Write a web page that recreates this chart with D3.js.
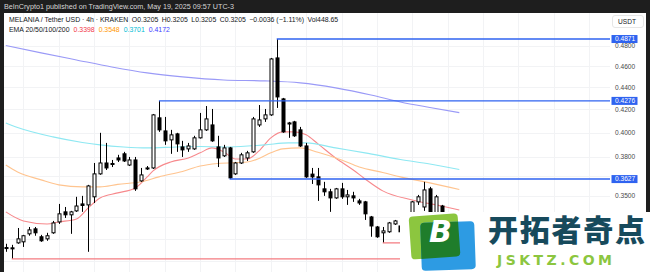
<!DOCTYPE html>
<html>
<head>
<meta charset="utf-8">
<script src="https://cdn.jsdelivr.net/npm/d3@7"></script>
<style>
  body { margin: 0; background: #fff; }
  svg { display: block; }
</style>
</head>
<body>
<div id="chart"></div>
<script>
// <-- ************ DATA ************ -->
// 4h candles, [open, high, low, close]
const candles = [
  [0.3140, 0.3165, 0.3112, 0.3138], [0.3138, 0.3158, 0.3066, 0.3135], [0.3171, 0.3272, 0.3165, 0.3198],
  [0.3178, 0.3225, 0.3144, 0.3219], [0.3232, 0.3279, 0.3219, 0.3259], [0.3266, 0.3279, 0.3219, 0.3239],
  [0.3212, 0.3225, 0.3178, 0.3185], [0.3198, 0.3239, 0.3185, 0.3219], [0.3239, 0.3321, 0.3232, 0.3307],
  [0.3314, 0.3442, 0.3300, 0.3371], [0.3385, 0.3420, 0.3342, 0.3364], [0.3364, 0.3392, 0.3232, 0.3385],
  [0.3392, 0.3494, 0.3385, 0.3427], [0.3442, 0.3501, 0.3385, 0.3431], [0.3435, 0.3583, 0.3112, 0.3575],
  [0.3494, 0.3752, 0.3449, 0.3667], [0.3667, 0.3998, 0.3660, 0.3752], [0.3752, 0.3914, 0.3697, 0.3713],
  [0.3740, 0.3776, 0.3720, 0.3748], [0.3792, 0.3817, 0.3760, 0.3776], [0.3825, 0.3841, 0.3760, 0.3768],
  [0.3736, 0.3800, 0.3728, 0.3776], [0.3776, 0.3800, 0.3538, 0.3553], [0.3613, 0.3713, 0.3606, 0.3659],
  [0.3713, 0.3728, 0.3697, 0.3705], [0.3713, 0.4160, 0.3705, 0.4152], [0.4126, 0.4276, 0.4006, 0.4023],
  [0.4014, 0.4134, 0.3898, 0.3931], [0.3939, 0.4023, 0.3825, 0.3981], [0.3989, 0.3998, 0.3841, 0.3906],
  [0.3881, 0.3931, 0.3800, 0.3857], [0.3865, 0.3914, 0.3841, 0.3889], [0.3865, 0.3973, 0.3857, 0.3956],
  [0.3956, 0.4169, 0.3950, 0.4023], [0.4023, 0.4230, 0.4014, 0.4117], [0.4065, 0.4204, 0.3923, 0.3931],
  [0.3881, 0.3973, 0.3720, 0.3792], [0.3809, 0.3898, 0.3800, 0.3873], [0.3873, 0.3881, 0.3627, 0.3636],
  [0.3667, 0.3760, 0.3659, 0.3752], [0.3752, 0.3833, 0.3744, 0.3817], [0.3792, 0.3849, 0.3768, 0.3833],
  [0.3841, 0.4134, 0.3833, 0.4117], [0.4065, 0.4239, 0.4048, 0.4108], [0.4117, 0.4204, 0.4091, 0.4152],
  [0.4152, 0.4681, 0.4143, 0.4671], [0.4681, 0.4871, 0.4213, 0.4312], [0.4294, 0.4303, 0.3998, 0.4006],
  [0.4073, 0.4091, 0.3956, 0.4082], [0.4091, 0.4100, 0.3964, 0.3973], [0.4023, 0.4048, 0.3881, 0.3889],
  [0.3889, 0.3914, 0.3636, 0.3644], [0.3665, 0.3713, 0.3590, 0.3644], [0.3644, 0.3713, 0.3464, 0.3583],
  [0.3553, 0.3606, 0.3501, 0.3531], [0.3531, 0.3553, 0.3385, 0.3486], [0.3486, 0.3560, 0.3479, 0.3553],
  [0.3553, 0.3598, 0.3479, 0.3494], [0.3494, 0.3545, 0.3435, 0.3508], [0.3501, 0.3531, 0.3457, 0.3486],
  [0.3464, 0.3479, 0.3435, 0.3449], [0.3457, 0.3464, 0.3328, 0.3371], [0.3349, 0.3356, 0.3212, 0.3286],
  [0.3279, 0.3286, 0.3205, 0.3212], [0.3239, 0.3279, 0.3171, 0.3252], [0.3246, 0.3314, 0.3239, 0.3307],
  [0.3300, 0.3328, 0.3293, 0.3321], [0.3286, 0.3293, 0.3239, 0.3246], [0.3246, 0.3300, 0.3230, 0.3290],
  [0.3290, 0.3464, 0.3280, 0.3457], [0.3457, 0.3508, 0.3435, 0.3494], [0.3420, 0.3606, 0.3392, 0.3545],
  [0.3553, 0.3568, 0.3342, 0.3356], [0.3371, 0.3508, 0.3350, 0.3494], [0.3427, 0.3435, 0.3300, 0.3314],
  [0.3314, 0.3330, 0.3235, 0.3252], [0.3252, 0.3270, 0.3225, 0.3241], [0.3205, 0.3205, 0.3205, 0.3205]
];

// EMA readings, [candle index, value]
const ema20 = [[0, 0.3385], [3, 0.3321], [7, 0.3300], [9, 0.3314], [12, 0.3335], [14, 0.3413], [16, 0.3486],
  [19, 0.3523], [22, 0.3560], [24, 0.3644], [25, 0.3690], [28, 0.3760], [31, 0.3792], [33, 0.3833],
  [35, 0.3873], [37, 0.3841], [39, 0.3784], [41, 0.3784], [43, 0.3849], [45, 0.3956], [47, 0.4006],
  [49, 0.4006], [51, 0.3981], [53, 0.3906], [56, 0.3792], [59, 0.3697], [61, 0.3628], [64, 0.3538],
  [69, 0.3471], [74, 0.3427], [77, 0.3398]];
const ema50 = [[0, 0.3736], [2, 0.3682], [6, 0.3621], [9, 0.3583], [13, 0.3568], [16, 0.3568], [19, 0.3587],
  [23, 0.3606], [26, 0.3644], [30, 0.3686], [33, 0.3728], [36, 0.3748], [41, 0.3760], [43, 0.3788],
  [45, 0.3833], [47, 0.3865], [50, 0.3873], [53, 0.3837], [57, 0.3776], [60, 0.3720], [64, 0.3678],
  [67, 0.3644], [72, 0.3598], [77, 0.3548]];
const ema100 = [[0, 0.4082], [2, 0.4043], [8, 0.3964], [13, 0.3918], [16, 0.3898], [20, 0.3881], [24, 0.3873],
  [29, 0.3881], [33, 0.3885], [38, 0.3881], [44, 0.3898], [48, 0.3914], [51, 0.3914], [56, 0.3873],
  [61, 0.3833], [67, 0.3780], [72, 0.3744], [77, 0.3701]];
const ema200 = [[0, 0.4805], [6, 0.4731], [12, 0.4661], [18, 0.4593], [24, 0.4536], [30, 0.4498], [37, 0.4469],
  [44, 0.4460], [50, 0.4441], [56, 0.4395], [62, 0.4330], [67, 0.4266], [72, 0.4217], [77, 0.4172]];

const emaLast = ["0.3398", "0.3548", "0.3701", "0.4172"];

// horizontal levels: price, starting candle
const levelPrices = [0.4871, 0.4276, 0.3627];
const levelStart = [46, 26, 38];
const supportPrices = [0.3066, 0.3171];
const supportStart = [1, 64];

// grid rows and the axis labels left readable
const priceTicks = [0.48, 0.46, 0.44, 0.42, 0.40, 0.38, 0.365, 0.35, 0.335, 0.32, 0.305];
const priceLabels = [0.48, 0.46, 0.44, 0.42, 0.40, 0.38, 0.35];
const dayGrid = d3.range(3, 100, 6);

// <-- ************ LAYOUT ************ -->
const FRAME_WIDTH = 650;
const FRAME_HEIGHT = 272;
const PLOT = {left: 4, right: 610, top: 13, bottom: 272};

const COLORS = {
  ema: ["#f23645", "#ff9800", "#00bcd4", "#3f3fff"],
  line: ["#f7898c", "#ffc48f", "#8ee8f2", "#9a9af7"],
  level: "#2f63f0",
  support: "#f47b80",
  text: "#131722",
  axis: "#4a4a4a",
  grid: "#f2f3f5"
};

const X_SCALE = d3.scaleLinear().domain([0, 77]).range([5.8, 459.3]);
const Y_SCALE = d3.scaleLog().domain([0.48, 0.35]).range([46, 196]);

const svg = d3.select("#chart").append("svg")
  .attr("width", FRAME_WIDTH)
  .attr("height", FRAME_HEIGHT)
  .style("font-family", "'Liberation Sans', Arial, sans-serif");

svg.append("rect").attr("width", FRAME_WIDTH).attr("height", FRAME_HEIGHT).attr("fill", "#fff");

svg.append("clipPath").attr("id", "plot-clip")
  .append("rect")
  .attr("x", PLOT.left).attr("y", PLOT.top)
  .attr("width", PLOT.right - PLOT.left).attr("height", PLOT.bottom - PLOT.top);

const plot = svg.append("g").attr("clip-path", "url(#plot-clip)");

// grid
plot.append("g").selectAll("line").data(dayGrid).enter().append("line")
  .attr("x1", d => Math.round(X_SCALE(d)) + 0.5).attr("x2", d => Math.round(X_SCALE(d)) + 0.5)
  .attr("y1", PLOT.top).attr("y2", PLOT.bottom)
  .attr("stroke", COLORS.grid);
plot.append("g").selectAll("line").data(priceTicks).enter().append("line")
  .attr("x1", PLOT.left).attr("x2", PLOT.right)
  .attr("y1", d => Math.round(Y_SCALE(d)) + 0.5).attr("y2", d => Math.round(Y_SCALE(d)) + 0.5)
  .attr("stroke", COLORS.grid);

// EMA lines
const emaLine = d3.line()
  .x(d => X_SCALE(d[0]))
  .y(d => Y_SCALE(d[1]))
  .curve(d3.curveMonotoneX);

[ema20, ema50, ema100, ema200].forEach((series, i) => {
  plot.append("path")
    .datum(series)
    .attr("d", emaLine)
    .attr("fill", "none")
    .attr("stroke", COLORS.line[i])
    .attr("stroke-width", 1.1);
});

// candles
const candleG = plot.append("g").selectAll("g").data(candles).enter().append("g");

candleG.append("line")
  .attr("x1", (d, i) => Math.round(X_SCALE(i)) + 0.5)
  .attr("x2", (d, i) => Math.round(X_SCALE(i)) + 0.5)
  .attr("y1", d => Y_SCALE(d[1]))
  .attr("y2", d => Y_SCALE(d[2]))
  .attr("stroke", "#000");

candleG.append("rect")
  .attr("x", (d, i) => Math.round(X_SCALE(i)) - 1)
  .attr("width", 3)
  .attr("y", d => Math.min(Y_SCALE(d[0]), Y_SCALE(d[3])))
  .attr("height", d => Math.max(1, Math.abs(Y_SCALE(d[0]) - Y_SCALE(d[3]))))
  .attr("fill", d => d[3] >= d[0] ? "#fff" : "#000")
  .attr("stroke", "#000")
  .attr("stroke-width", 1);

// level lines
plot.append("g").selectAll("line").data(levelPrices).enter().append("line")
  .attr("x1", (d, i) => X_SCALE(levelStart[i]))
  .attr("x2", PLOT.right)
  .attr("y1", d => Y_SCALE(d)).attr("y2", d => Y_SCALE(d))
  .attr("stroke", COLORS.level)
  .attr("stroke-width", 1.4);

plot.append("g").selectAll("line").data(supportPrices).enter().append("line")
  .attr("x1", (d, i) => X_SCALE(supportStart[i]))
  .attr("x2", PLOT.right)
  .attr("y1", d => Y_SCALE(d)).attr("y2", d => Y_SCALE(d))
  .attr("stroke", COLORS.support)
  .attr("stroke-width", 1.4);

// price axis
svg.append("g").selectAll("text").data(priceLabels).enter().append("text")
  .attr("x", 615)
  .attr("y", d => Y_SCALE(d))
  .attr("dy", "0.35em")
  .attr("font-size", "6.6px")
  .attr("fill", COLORS.axis)
  .text(d => d.toFixed(4));

const levelTag = svg.append("g").selectAll("g").data(levelPrices).enter().append("g");
levelTag.append("rect")
  .attr("x", 611.5).attr("y", d => Y_SCALE(d) - 4)
  .attr("width", 26).attr("height", 8)
  .attr("fill", COLORS.level);
levelTag.append("text")
  .attr("x", 615).attr("y", d => Y_SCALE(d))
  .attr("dy", "0.35em")
  .attr("font-size", "6.6px")
  .attr("fill", "#fff")
  .text(d => d.toFixed(4));

svg.append("rect")
  .attr("x", 612.5).attr("y", 15.5).attr("width", 31).attr("height", 12).attr("rx", 2.5)
  .attr("fill", "#fff").attr("stroke", "#e6e6e6");
svg.append("text")
  .attr("x", 618).attr("y", 21.5).attr("dy", "0.35em")
  .attr("font-size", "6.6px").attr("fill", COLORS.text)
  .text("USDT");

// legend
const legend1 = svg.append("text")
  .attr("x", 9).attr("y", 20).attr("dy", "0.35em")
  .attr("font-size", "6.9px").attr("fill", COLORS.text);
legend1.append("tspan").text("MELANIA / Tether USD · 4h · KRAKEN");
["O0.3205", "H0.3205", "L0.3205", "C0.3205", "\u22120.0036 (\u22121.11%)", "Vol448.65"].forEach(t => {
  legend1.append("tspan").attr("dx", 3.5).text(t);
});

const legend2 = svg.append("text")
  .attr("x", 9).attr("y", 29.5).attr("dy", "0.35em")
  .attr("font-size", "6.9px").attr("fill", COLORS.text);
legend2.append("tspan").text("EMA 20/50/100/200");
emaLast.forEach((t, i) => {
  legend2.append("tspan").attr("dx", 4).attr("fill", COLORS.ema[i]).text(t);
});

// screenshot frame
svg.append("rect").attr("x", 0).attr("y", 0).attr("width", FRAME_WIDTH).attr("height", 13).attr("fill", "#1e1e1e");
svg.append("rect").attr("x", 0).attr("y", 0).attr("width", 4).attr("height", FRAME_HEIGHT).attr("fill", "#1e1e1e");
svg.append("rect").attr("x", 646).attr("y", 0).attr("width", 4).attr("height", 212).attr("fill", "#1e1e1e");
svg.append("text")
  .attr("x", 4).attr("y", 6.5).attr("dy", "0.35em")
  .attr("font-size", "7.2px").attr("fill", "#d6d6d6")
  .text("BeInCrypto1 published on TradingView.com, May 19, 2025 09:57 UTC-3");

// watermark
const mark = svg.append("g");
mark.append("rect").attr("x", 400).attr("y", 212).attr("width", 250).attr("height", 60).attr("fill", "#fff");
mark.append("clipPath").attr("id", "blue-clip")
  .append("rect").attr("x", 421).attr("y", 222).attr("width", 54).attr("height", 48).attr("rx", 4)
  .attr("transform", "rotate(-2 448 246)");
mark.append("rect").attr("x", 410).attr("y", 215).attr("width", 49).attr("height", 43).attr("rx", 4)
  .attr("transform", "rotate(-4 434 236)").attr("fill", "#8cc63f");
mark.append("rect").attr("x", 421).attr("y", 222).attr("width", 54).attr("height", 48).attr("rx", 4)
  .attr("transform", "rotate(-2 448 246)").attr("fill", "#2d9be3");
mark.append("g").attr("clip-path", "url(#blue-clip)")
  .append("rect").attr("x", 410).attr("y", 215).attr("width", 49).attr("height", 43).attr("rx", 4)
  .attr("transform", "rotate(-4 434 236)").attr("fill", "#1f7d2b");
mark.append("text")
  .attr("x", 429).attr("y", 242)
  .attr("font-size", "30px").attr("font-weight", "bold").attr("font-style", "italic")
  .attr("font-family", "'DejaVu Sans', sans-serif")
  .attr("fill", "#fff")
  .text("B");
mark.append("text")
  .attr("x", 488).attr("y", 241)
  .attr("font-size", "30px").attr("font-weight", 900)
  .attr("font-family", "'Noto Sans CJK SC', sans-serif")
  .attr("textLength", 157).attr("lengthAdjust", "spacing")
  .attr("fill", "#174a5c")
  .text("开拓者奇点");
mark.append("text")
  .attr("x", 497).attr("y", 265)
  .attr("font-size", "14px").attr("font-weight", "bold")
  .attr("font-family", "'DejaVu Sans', sans-serif")
  .attr("textLength", 115).attr("lengthAdjust", "spacing")
  .attr("fill", "#8cc63f")
  .text("JSKTZ.COM");
</script>
</body>
</html>
